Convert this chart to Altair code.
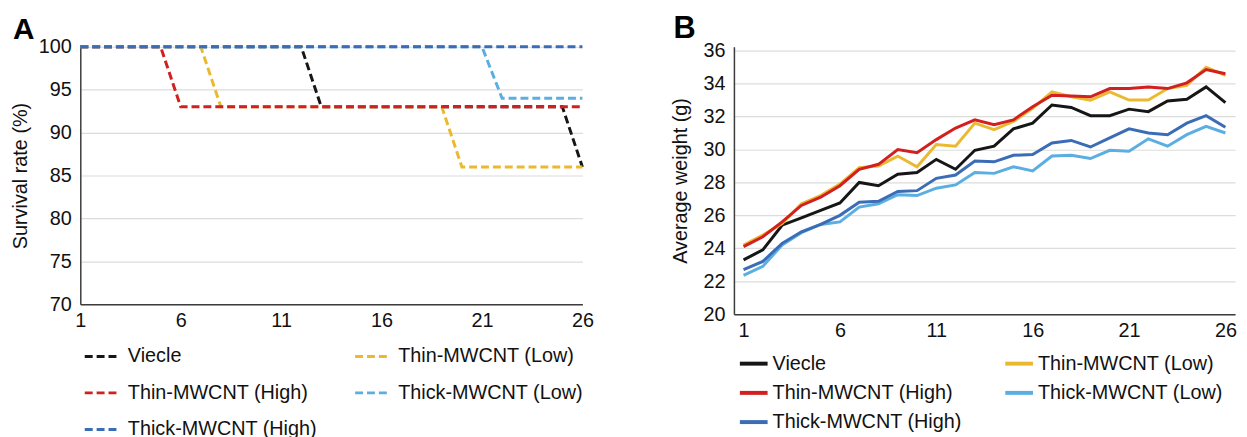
import altair as alt
import pandas as pd

FONT = "Liberation Sans"

days = list(range(1, 27))
tick_days = [1, 6, 11, 16, 21, 26]

series_names = ["Viecle", "Thin-MWCNT (Low)", "Thin-MWCNT (High)",
                "Thick-MWCNT (Low)", "Thick-MWCNT (High)"]
series_colors = ["#161616", "#EBB92F", "#D21F1F", "#5BAEE2", "#3A6DB5"]

# Panel A: survival rate (%)
surv_viecle = [100, 100, 100, 100, 100, 100, 100, 100, 100, 100, 100, 100, 93,
               93, 93, 93, 93, 93, 93, 93, 93, 93, 93, 93, 93, 86]
surv_thin_low = [100, 100, 100, 100, 100, 100, 100, 93, 93, 93, 93, 93, 93,
                 93, 93, 93, 93, 93, 93, 86, 86, 86, 86, 86, 86, 86]
surv_thin_high = [100, 100, 100, 100, 100, 93, 93, 93, 93, 93, 93, 93, 93,
                  93, 93, 93, 93, 93, 93, 93, 93, 93, 93, 93, 93, 93]
surv_thick_low = [100, 100, 100, 100, 100, 100, 100, 100, 100, 100, 100, 100, 100,
                  100, 100, 100, 100, 100, 100, 100, 100, 94, 94, 94, 94, 94]
surv_thick_high = [100, 100, 100, 100, 100, 100, 100, 100, 100, 100, 100, 100, 100,
                   100, 100, 100, 100, 100, 100, 100, 100, 100, 100, 100, 100, 100]

# Panel B: average weight (g)
wt_viecle = [23.3, 23.9, 25.4, 25.85, 26.3, 26.75, 28.0, 27.8, 28.5, 28.6, 29.4, 28.8, 29.95,
             30.2, 31.25, 31.6, 32.7, 32.55, 32.05, 32.05, 32.45, 32.3, 32.95, 33.05, 33.8, 32.85]
wt_thin_low = [24.2, 24.8, 25.5, 26.7, 27.2, 27.9, 28.9, 29.0, 29.6, 28.95, 30.3, 30.2, 31.6,
               31.2, 31.7, 32.5, 33.5, 33.2, 33.0, 33.5, 33.0, 33.0, 33.7, 33.9, 35.0, 34.5]
wt_thin_high = [24.1, 24.7, 25.6, 26.6, 27.1, 27.8, 28.8, 29.1, 30.0, 29.8, 30.6, 31.3, 31.8,
                31.5, 31.8, 32.6, 33.3, 33.25, 33.2, 33.7, 33.7, 33.8, 33.7, 34.05, 34.85, 34.6]
wt_thick_low = [22.35, 22.9, 24.2, 24.95, 25.45, 25.6, 26.5, 26.7, 27.25, 27.2, 27.65, 27.85, 28.6,
                28.55, 28.95, 28.7, 29.6, 29.65, 29.45, 29.95, 29.9, 30.65, 30.2, 30.9, 31.4, 31.0]
wt_thick_high = [22.7, 23.2, 24.3, 25.0, 25.45, 26.0, 26.8, 26.85, 27.45, 27.5, 28.25, 28.45, 29.3,
                 29.25, 29.65, 29.7, 30.4, 30.55, 30.15, 30.7, 31.25, 31.0, 30.9, 31.6, 32.05, 31.35]


def long_table(columns):
    rows = []
    for name, vals in zip(series_names, columns):
        for d, v in zip(days, vals):
            rows.append({"series": name, "day": d, "value": v})
    return pd.DataFrame(rows)


dfA = long_table([surv_viecle, surv_thin_low, surv_thin_high, surv_thick_low, surv_thick_high])
dfB = long_table([wt_viecle, wt_thin_low, wt_thin_high, wt_thick_low, wt_thick_high])

axis_common = dict(labelFont=FONT, labelFontSize=20, labelColor="#111111",
                   titleFont=FONT, titleFontSize=20, titleFontWeight="normal", titleColor="#111111",
                   ticks=False, domainColor="#3c3c3c", domainWidth=1.5, labelFlush=False)

chartA = alt.Chart(dfA).mark_line(strokeWidth=3, strokeDash=[8, 4]).encode(
    x=alt.X("day:Q",
            scale=alt.Scale(domain=[1, 26], nice=False, zero=False),
            axis=alt.Axis(values=tick_days, title=None, grid=False, labelPadding=6, **axis_common)),
    y=alt.Y("value:Q",
            scale=alt.Scale(domain=[70, 100], nice=False, zero=False),
            axis=alt.Axis(values=[70, 75, 80, 85, 90, 95, 100], title="Survival rate (%)",
                          grid=True, gridColor="#dcdcdc", gridWidth=1.2,
                          labelPadding=9, titlePadding=8, **axis_common)),
    color=alt.Color("series:N",
                    scale=alt.Scale(domain=series_names, range=series_colors),
                    legend=alt.Legend(title=None, orient="none", legendX=3, legendY=295,
                                      direction="horizontal", columns=2,
                                      symbolType="stroke", symbolSize=1024,
                                      symbolStrokeWidth=3, symbolDash=[8, 4],
                                      labelFont=FONT, labelFontSize=20, labelColor="#111111",
                                      labelOffset=10, rowPadding=9, columnPadding=31,
                                      padding=0, labelLimit=400)),
).properties(
    width=507, height=260,
    title=alt.TitleParams("A", anchor="start", frame="group", font=FONT, fontSize=30,
                          fontWeight="bold", color="#000000", dx=-68, offset=-32,
                          baseline="alphabetic"),
)

chartB = alt.Chart(dfB).mark_line(strokeWidth=3).encode(
    x=alt.X("day:Q",
            scale=alt.Scale(domain=[0.5, 26.5], nice=False, zero=False),
            axis=alt.Axis(values=tick_days, title=None, grid=False, labelPadding=7, **axis_common)),
    y=alt.Y("value:Q",
            scale=alt.Scale(domain=[20, 36.24], nice=False, zero=False),
            axis=alt.Axis(values=[20, 22, 24, 26, 28, 30, 32, 34, 36], title="Average weight (g)",
                          grid=True, gridColor="#dcdcdc", gridWidth=1.2,
                          labelPadding=9, titlePadding=13, **axis_common)),
    color=alt.Color("series:N",
                    scale=alt.Scale(domain=series_names, range=series_colors),
                    legend=alt.Legend(title=None, orient="none", legendX=4, legendY=304,
                                      direction="horizontal", columns=2,
                                      symbolType="stroke", symbolSize=784,
                                      symbolStrokeWidth=4,
                                      labelFont=FONT, labelFontSize=20, labelColor="#111111",
                                      labelOffset=3, rowPadding=3.5, columnPadding=35,
                                      padding=0, labelLimit=400)),
).properties(
    width=506, height=270,
    title=alt.TitleParams("B", anchor="start", frame="group", font=FONT, fontSize=31,
                          fontWeight="bold", color="#000000", dx=-61, offset=-28,
                          baseline="alphabetic"),
)

chart = alt.hconcat(chartA, chartB, spacing=76).resolve_scale(
    color="independent"
).configure_view(strokeWidth=0).properties(padding=2)

chart.save("out.html", embed_options={"renderer": "svg", "actions": False})
